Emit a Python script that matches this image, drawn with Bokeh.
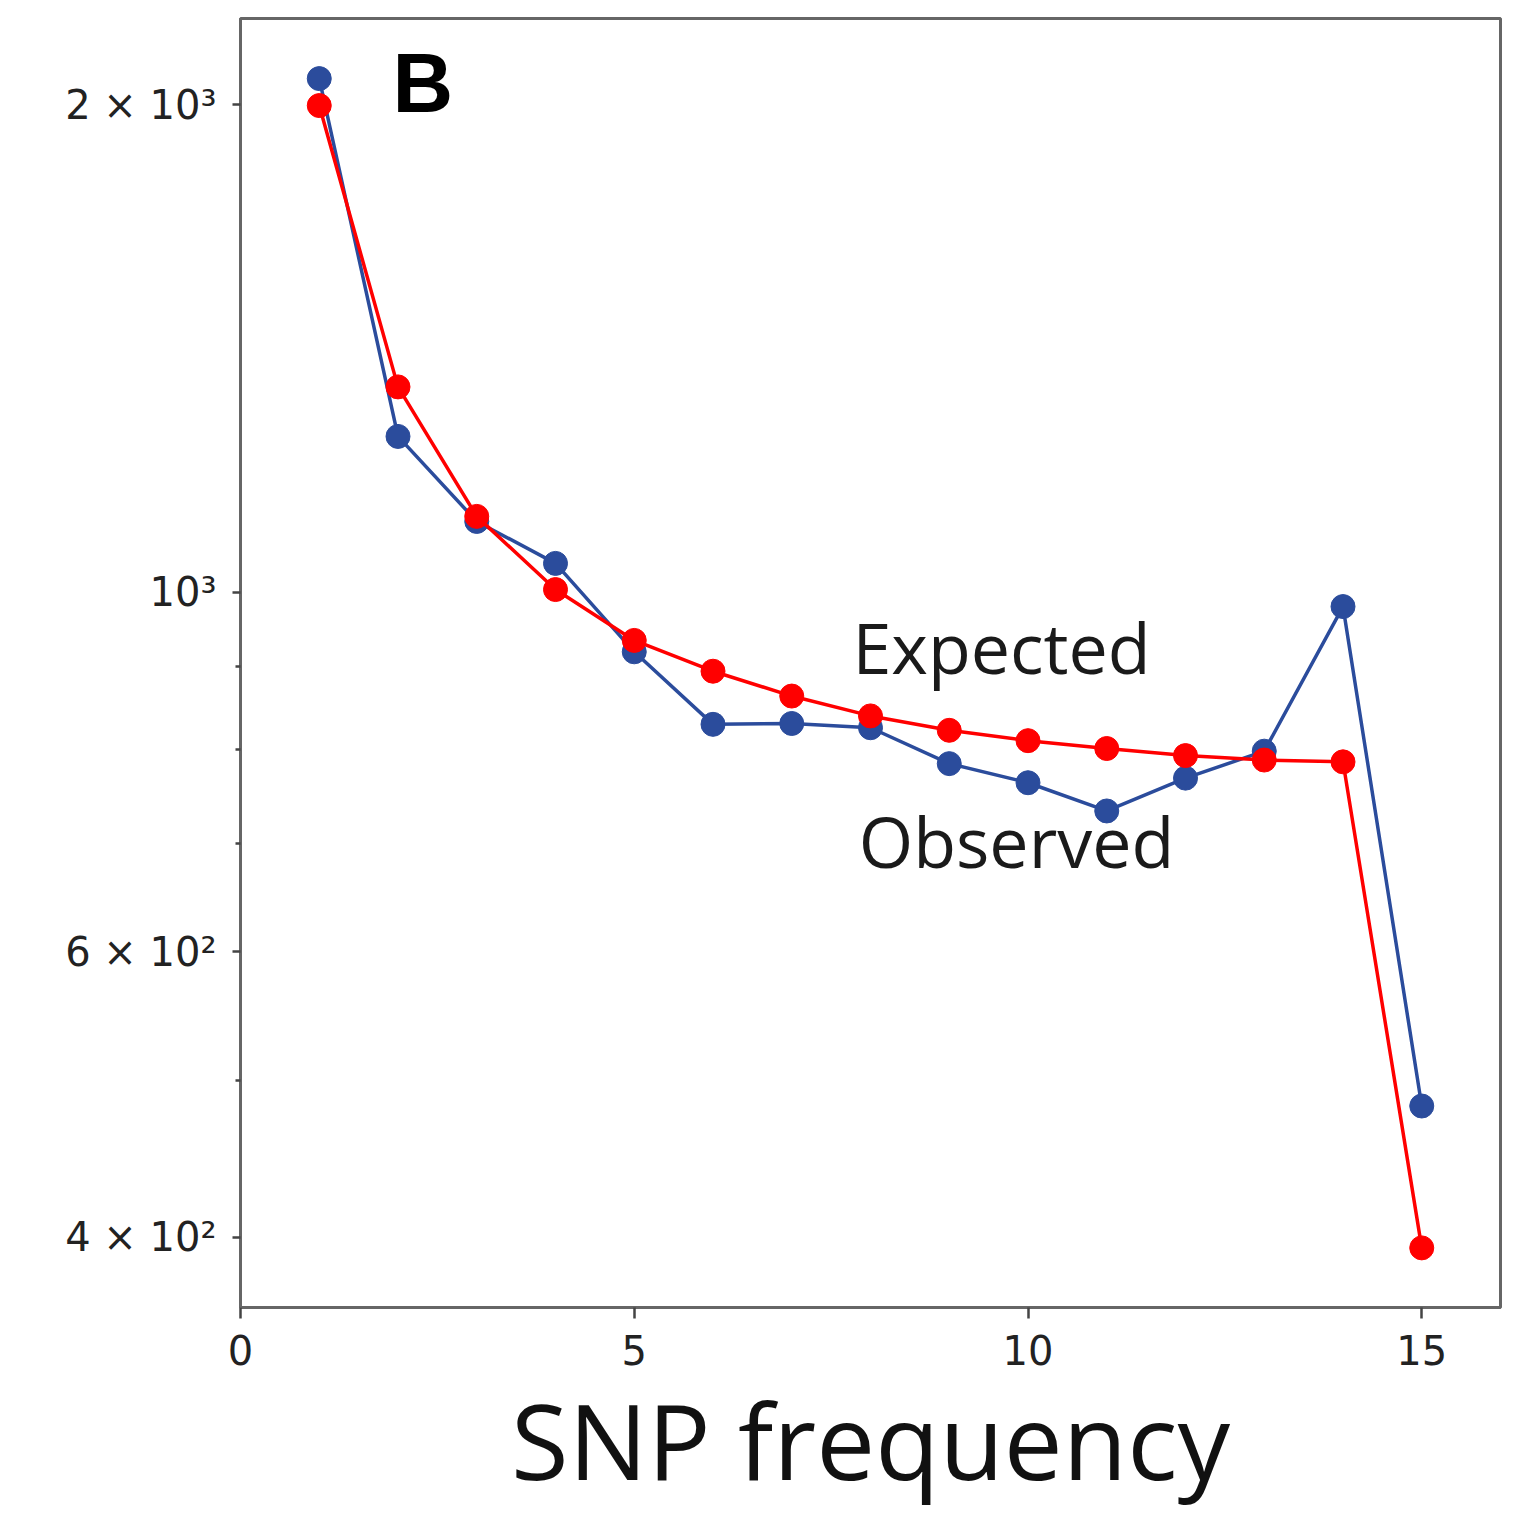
from bokeh.plotting import figure
from bokeh.models import FixedTicker, Label, Range1d, ColumnDataSource
from bokeh.embed import file_html
from bokeh.resources import INLINE

# Site frequency spectrum: number of SNPs at each derived-allele count
snp_freq = [1, 2, 3, 4, 5, 6, 7, 8, 9, 10, 11, 12, 13, 14, 15]
observed = [2075, 1248, 1106, 1042, 919, 829, 830, 825, 784, 763, 733, 768, 798, 980, 482]
expected = [1997, 1339, 1114, 1004, 934, 894, 863, 839, 822, 810, 801, 793, 788, 786, 394]

x_ticks = [0, 5, 10, 15]
y_ticks = [400, 600, 1000, 2000]
y_tick_labels = ["4 × 10²", "6 × 10²", "10³", "2 × 10³"]
y_minor_ticks = [500, 700, 800, 900]

BLUE = "#2b4c9c"
RED = "#ff0000"
FRAME = "#666666"

p = figure(
    width=1523, height=1513,
    y_axis_type="log",
    x_range=Range1d(0, 16), y_range=Range1d(362, 2260),
    output_backend="svg", toolbar_location=None,
    min_border_left=240, min_border_right=23,
    min_border_top=18, min_border_bottom=203,
    background_fill_color="white", border_fill_color="white",
)
p.xgrid.visible = False
p.ygrid.visible = False
p.outline_line_color = FRAME
p.outline_line_width = 3

obs_src = ColumnDataSource(dict(x=snp_freq, y=observed))
exp_src = ColumnDataSource(dict(x=snp_freq, y=expected))

p.line("x", "y", source=obs_src, line_color=BLUE, line_width=3.5)
p.scatter("x", "y", source=obs_src, size=24, fill_color=BLUE, line_color=BLUE)
p.line("x", "y", source=exp_src, line_color=RED, line_width=3.5)
p.scatter("x", "y", source=exp_src, size=24, fill_color=RED, line_color=RED)

# axes
for ax in (p.xaxis[0], p.yaxis[0]):
    ax.axis_line_color = FRAME
    ax.axis_line_width = 3
    ax.major_tick_line_color = "#444444"
    ax.major_tick_line_width = 2.5
    ax.minor_tick_line_color = "#444444"
    ax.minor_tick_line_width = 2.5
    ax.major_tick_in = 0
    ax.minor_tick_in = 0
    ax.major_label_text_font = "DejaVu Sans"
    ax.major_label_text_font_size = "40px"
    ax.major_label_text_color = "#222222"

p.xaxis.ticker = FixedTicker(ticks=x_ticks)
p.xaxis.major_tick_out = 11
p.xaxis.minor_tick_out = 0
p.xaxis.major_label_standoff = 16
p.xaxis.axis_label = "SNP frequency"
p.xaxis.axis_label_text_font = "Open Sans"
p.xaxis.axis_label_text_font_style = "normal"
p.xaxis.axis_label_text_font_size = "105px"
p.xaxis.axis_label_text_color = "#111111"
p.xaxis.axis_label_standoff = 0

p.yaxis.ticker = FixedTicker(ticks=y_ticks, minor_ticks=y_minor_ticks)
p.yaxis.major_label_overrides = {v: s for v, s in zip(y_ticks, y_tick_labels)}
p.yaxis.major_tick_out = 8
p.yaxis.minor_tick_out = 5
p.yaxis.major_label_standoff = 16

# series names and panel letter
p.add_layout(Label(
    x=7.77, y=925, text="Expected", text_baseline="alphabetic",
    text_font="Open Sans", text_font_size="70px", text_color="#1a1a1a",
))
p.add_layout(Label(
    x=7.85, y=702, text="Observed", text_baseline="alphabetic",
    text_font="Open Sans", text_font_size="70px", text_color="#1a1a1a",
))
p.add_layout(Label(
    x=1.93, y=2061, text="B", text_baseline="alphabetic",
    text_font="Liberation Sans", text_font_style="bold",
    text_font_size="84px", text_color="#000000",
))

open("out.html", "w").write(file_html(p, INLINE))
